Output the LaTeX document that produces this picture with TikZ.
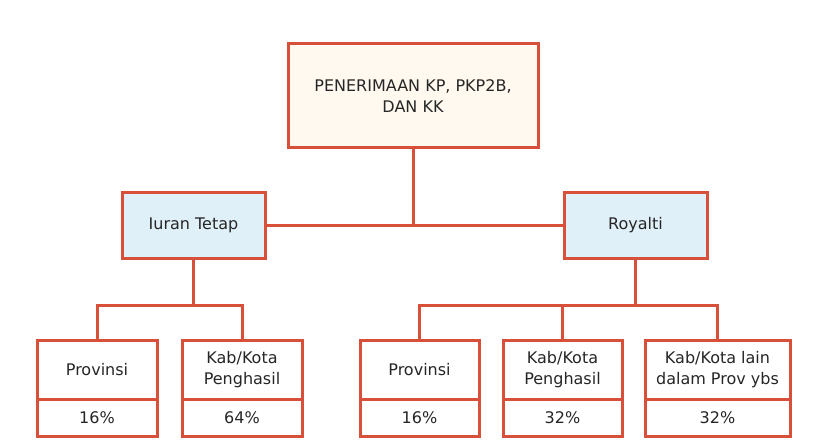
\documentclass[tikz,border=0pt]{standalone}
\usepackage{fontspec}
\setmainfont{DejaVu Sans}
\definecolor{bord}{HTML}{D9503A}
\definecolor{topfill}{HTML}{FFF9EF}
\definecolor{midfill}{HTML}{E0F0F8}
\begin{document}
\begin{tikzpicture}[x=1pt,y=-1pt,
  box/.style={draw=bord,line width=3pt,rectangle,inner sep=0pt,align=center,font=\fontsize{16}{21}\selectfont,text=black!85},
  link/.style={draw=bord,line width=3pt}]
\useasboundingbox (0,0) rectangle (817,441);
\node[box,fill=topfill,minimum width=250pt,minimum height=104pt] (top) at (413,96) {PENERIMAAN KP, PKP2B,\\DAN KK};
\node[box,fill=midfill,minimum width=143pt,minimum height=65pt] (iuran) at (193.5,225.5) {Iuran Tetap};
\node[box,fill=midfill,minimum width=143pt,minimum height=65pt] (roy) at (635.5,225.5) {Royalti};
% bottom boxes
\foreach \n/\cx/\w/\t/\p in {a/97/120/Provinsi/16\%, b/242/120/{Kab/Kota\\Penghasil}/64\%, c/419.5/119/Provinsi/16\%, d/562.5/119/{Kab/Kota\\Penghasil}/32\%, e/717.5/145/{Kab/Kota lain\\dalam Prov ybs}/32\%}{
  \node[box,fill=white,minimum width=\w pt,minimum height=59pt] (\n) at (\cx,369.5) {\t};
  \node[box,fill=white,minimum width=\w pt,minimum height=37pt] (\n p) at (\cx,417.5) {\p};
}
\coordinate (j0) at (top.south |- iuran.east);
\draw[link] (top.south) -- (j0);
\draw[link] (iuran.east) -- (roy.west);
\coordinate (jl) at (iuran.south |- 0,305);
\draw[link] (iuran.south) -- (jl);
\draw[link] (a.north) |- (jl) -| (b.north);
\coordinate (jr) at (roy.south |- 0,305);
\draw[link] (roy.south) -- (jr);
\draw[link] (c.north) |- (jr) -| (e.north);
\draw[link] (d.north) -- (d.north |- jr);
\end{tikzpicture}
\end{document}
